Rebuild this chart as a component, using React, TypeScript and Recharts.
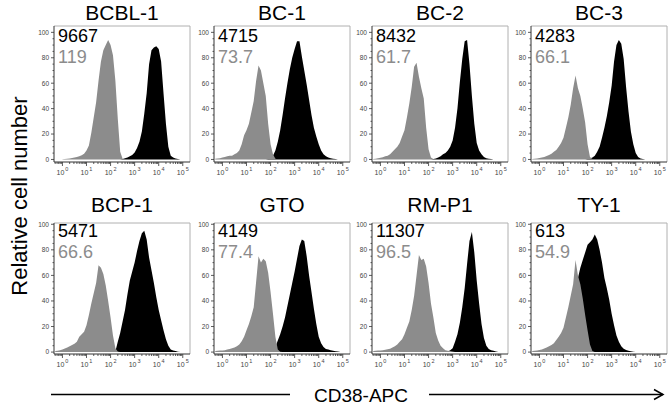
import { ComposedChart, Area, XAxis, YAxis, ReferenceLine } from "recharts"

// Flow histograms, 8 cell lines: isotype (gray) vs CD38-APC (black).
// x values are log10 of fluorescence, y is % of max.

type Pt = [number, number]

const PANEL_NAMES = ["BCBL-1", "BC-1", "BC-2", "BC-3", "BCP-1", "GTO", "RM-P1", "TY-1"]
const CD38_MFI = ["9667", "4715", "8432", "4283", "5471", "4149", "11307", "613"]
const ISO_MFI = ["119", "73.7", "61.7", "66.1", "66.6", "77.4", "96.5", "54.9"]

const X_MAJOR = [0, 1, 2, 3, 4, 5]
const Y_MAJOR = [0, 20, 40, 60, 80, 100]

const ISO_BCBL1: Pt[] = [
  [0, 0.2], [0.1, 0.4], [0.2, 0.6], [0.3, 0.8], [0.4, 1.1], [0.5, 1.5], [0.6, 2], [0.7, 2.6],
  [0.8, 3.3], [0.9, 4.5], [1.0, 7], [1.1, 11], [1.2, 21], [1.3, 33], [1.4, 45], [1.5, 62],
  [1.6, 77], [1.7, 86], [1.8, 90], [1.9, 94], [2.0, 90], [2.1, 82], [2.2, 62], [2.3, 32],
  [2.4, 6], [2.5, 0.5], [2.6, 0],
]
const CD38_BCBL1: Pt[] = [
  [2.5, 0.3], [2.6, 1], [2.7, 1.5], [2.8, 2.5], [2.9, 3.5], [3.0, 5.5], [3.1, 9], [3.2, 14],
  [3.3, 22], [3.4, 36], [3.5, 52], [3.6, 75], [3.7, 86], [3.8, 88], [3.9, 89], [4.0, 87],
  [4.1, 77], [4.2, 52], [4.3, 28], [4.4, 10], [4.5, 3], [4.6, 1.5], [4.7, 0.8], [4.8, 0.4], [4.9, 0],
]

const ISO_BC1: Pt[] = [
  [-0.3, 0.5], [-0.2, 0.8], [-0.1, 1], [0, 1.5], [0.1, 2], [0.2, 2.5], [0.3, 3], [0.4, 3],
  [0.5, 4], [0.6, 5], [0.7, 7], [0.8, 12], [0.9, 19], [1.0, 23], [1.1, 28], [1.2, 37],
  [1.3, 46], [1.4, 62], [1.5, 74], [1.6, 70], [1.7, 60], [1.8, 50], [1.9, 28], [2.0, 12],
  [2.1, 4], [2.2, 0.5], [2.3, 0],
]
const CD38_BC1: Pt[] = [
  [1.9, 0.3], [2.0, 1], [2.1, 3], [2.2, 7], [2.3, 14], [2.4, 23], [2.5, 35], [2.6, 48],
  [2.7, 60], [2.8, 71], [2.9, 80], [3.0, 87], [3.1, 93], [3.2, 93], [3.3, 81], [3.4, 70],
  [3.5, 59], [3.6, 47], [3.7, 35], [3.8, 25], [3.9, 18], [4.0, 12], [4.1, 7], [4.2, 4],
  [4.3, 2.5], [4.4, 1.5], [4.5, 1], [4.6, 0.5], [4.7, 0.3], [4.8, 0],
]

const ISO_BC2: Pt[] = [
  [-0.3, 0.3], [-0.2, 0.5], [-0.1, 1], [0, 1.3], [0.1, 1.8], [0.2, 2.5], [0.3, 3], [0.4, 4],
  [0.5, 6], [0.6, 8], [0.7, 10], [0.8, 13], [0.9, 18], [1.0, 23], [1.1, 33], [1.2, 44],
  [1.3, 57], [1.4, 73], [1.5, 76], [1.6, 65], [1.7, 56], [1.8, 48], [1.9, 25], [2.0, 8],
  [2.1, 1.5], [2.2, 0.3], [2.3, 0],
]
const CD38_BC2: Pt[] = [
  [2.1, 0], [2.2, 0.3], [2.3, 0.8], [2.4, 1.5], [2.5, 2.5], [2.6, 4], [2.7, 5], [2.8, 7],
  [2.9, 10], [3.0, 15], [3.1, 25], [3.2, 40], [3.3, 61], [3.4, 79], [3.5, 93], [3.6, 94],
  [3.7, 75], [3.8, 50], [3.9, 28], [4.0, 13], [4.1, 7], [4.2, 4], [4.3, 2], [4.4, 1],
  [4.5, 0.5], [4.6, 0.3], [4.7, 0],
]

const ISO_BC3: Pt[] = [
  [-0.3, 0.3], [-0.2, 0.5], [-0.1, 0.8], [0, 1.2], [0.1, 1.6], [0.2, 2], [0.3, 2.7], [0.4, 3.5],
  [0.5, 4.5], [0.6, 6], [0.7, 7.5], [0.8, 10], [0.9, 13], [1.0, 17], [1.1, 25], [1.2, 33],
  [1.3, 43], [1.4, 56], [1.5, 66], [1.6, 56], [1.7, 50], [1.8, 40], [1.9, 29], [2.0, 12],
  [2.1, 2], [2.2, 0.3], [2.3, 0],
]
const CD38_BC3: Pt[] = [
  [1.9, 0], [2.0, 0.3], [2.1, 0.8], [2.2, 1.5], [2.3, 3], [2.4, 6], [2.5, 10], [2.6, 17],
  [2.7, 25], [2.8, 34], [2.9, 45], [3.0, 58], [3.1, 77], [3.2, 90], [3.3, 94], [3.4, 91],
  [3.5, 79], [3.6, 57], [3.7, 38], [3.8, 22], [3.9, 12], [4.0, 5], [4.1, 2], [4.2, 0.8],
  [4.3, 0.3], [4.4, 0],
]

const ISO_BCP1: Pt[] = [
  [-0.3, 0.8], [-0.2, 1], [-0.1, 1.5], [0, 2], [0.1, 2.8], [0.2, 3.5], [0.3, 4.5], [0.4, 5.5],
  [0.5, 6.5], [0.6, 8], [0.7, 12], [0.8, 14], [0.9, 16], [1.0, 21], [1.1, 29], [1.2, 38],
  [1.3, 46], [1.4, 54], [1.5, 68], [1.6, 66], [1.7, 61], [1.8, 52], [1.9, 40], [2.0, 27],
  [2.1, 13], [2.2, 3], [2.3, 0.5], [2.4, 0],
]
const CD38_BCP1: Pt[] = [
  [2.1, 0], [2.2, 0.5], [2.3, 8], [2.4, 15], [2.5, 24], [2.6, 33], [2.7, 45], [2.8, 56],
  [2.9, 63], [3.0, 70], [3.1, 79], [3.2, 87], [3.3, 93], [3.4, 95], [3.5, 88], [3.6, 74],
  [3.7, 64], [3.8, 54], [3.9, 43], [4.0, 33], [4.1, 25], [4.2, 17], [4.3, 10], [4.4, 5],
  [4.5, 2], [4.6, 1.2], [4.7, 0.8], [4.8, 0.3], [4.9, 0],
]

const ISO_GTO: Pt[] = [
  [-0.3, 0.8], [-0.2, 1], [-0.1, 1.2], [0, 1.3], [0.1, 1.5], [0.2, 2], [0.3, 2.5], [0.4, 3],
  [0.5, 3.5], [0.6, 4.5], [0.7, 6], [0.8, 8.5], [0.9, 12], [1.0, 17], [1.1, 22], [1.2, 28],
  [1.3, 35], [1.4, 55], [1.5, 75], [1.6, 70], [1.7, 73], [1.8, 71], [1.9, 62], [2.0, 47],
  [2.1, 30], [2.2, 12], [2.3, 2], [2.4, 0.3], [2.5, 0],
]
const CD38_GTO: Pt[] = [
  [1.9, 0], [2.0, 0.5], [2.1, 1.5], [2.2, 4], [2.3, 9], [2.4, 14], [2.5, 20], [2.6, 27],
  [2.7, 36], [2.8, 45], [2.9, 54], [3.0, 63], [3.1, 73], [3.2, 83], [3.3, 88], [3.4, 87],
  [3.5, 75], [3.6, 60], [3.7, 47], [3.8, 34], [3.9, 22], [4.0, 12], [4.1, 7], [4.2, 4],
  [4.3, 2.5], [4.4, 2], [4.5, 1.5], [4.6, 1], [4.7, 0.7], [4.8, 0.4], [4.9, 0],
]

const ISO_RMP1: Pt[] = [
  [-0.3, 0.8], [-0.2, 1], [-0.1, 1.2], [0, 1.3], [0.1, 1.5], [0.2, 1.8], [0.3, 2.2], [0.4, 2.6],
  [0.5, 3.5], [0.6, 4.5], [0.7, 6], [0.8, 8], [0.9, 10], [1.0, 14], [1.1, 19], [1.2, 24],
  [1.3, 33], [1.4, 44], [1.5, 60], [1.6, 76], [1.7, 72], [1.8, 73], [1.9, 67], [2.0, 54],
  [2.1, 38], [2.2, 27], [2.3, 15], [2.4, 9], [2.5, 5], [2.6, 3], [2.7, 1.5], [2.8, 1],
  [2.9, 0.8], [3.0, 0.5], [3.1, 0],
]
const CD38_RMP1: Pt[] = [
  [2.7, 0], [2.8, 0.5], [2.9, 1.5], [3.0, 3], [3.1, 8], [3.2, 14], [3.3, 23], [3.4, 35],
  [3.5, 50], [3.6, 69], [3.7, 87], [3.8, 94], [3.9, 78], [4.0, 56], [4.1, 38], [4.2, 22],
  [4.3, 11], [4.4, 5], [4.5, 2.5], [4.6, 1.5], [4.7, 1], [4.8, 0.5], [4.9, 0],
]

const ISO_TY1: Pt[] = [
  [-0.3, 0.8], [-0.2, 1], [-0.1, 1.3], [0, 1.6], [0.1, 2], [0.2, 2.8], [0.3, 3.5], [0.4, 4.5],
  [0.5, 5.5], [0.6, 7], [0.7, 9.5], [0.8, 12], [0.9, 15], [1.0, 19], [1.1, 27], [1.2, 35],
  [1.3, 44], [1.4, 53], [1.5, 72], [1.6, 60], [1.7, 53], [1.8, 42], [1.9, 29], [2.0, 17],
  [2.1, 6], [2.2, 0.8], [2.3, 0],
]
const CD38_TY1: Pt[] = [
  [0.9, 0], [1.0, 0.5], [1.1, 2], [1.2, 6], [1.3, 14], [1.4, 28], [1.5, 45], [1.6, 58],
  [1.7, 66], [1.8, 72], [1.9, 78], [2.0, 84], [2.1, 86], [2.2, 88], [2.3, 92], [2.4, 88],
  [2.5, 80], [2.6, 70], [2.7, 58], [2.8, 50], [2.9, 41], [3.0, 30], [3.1, 21], [3.2, 13],
  [3.3, 8], [3.4, 4.5], [3.5, 2.6], [3.6, 1.6], [3.7, 1], [3.8, 0.7], [3.9, 0.3], [4.0, 0],
]

const ISO_SERIES = [ISO_BCBL1, ISO_BC1, ISO_BC2, ISO_BC3, ISO_BCP1, ISO_GTO, ISO_RMP1, ISO_TY1]
const CD38_SERIES = [CD38_BCBL1, CD38_BC1, CD38_BC2, CD38_BC3, CD38_BCP1, CD38_GTO, CD38_RMP1, CD38_TY1]

// layout
const FONT = "'Liberation Sans', Arial, Helvetica, sans-serif"
const PLOT_W = 136
const COL_LEFT = [54, 214, 372, 531]
const ROWS = [
  { top: 26, h: 136, domain: [-2, 105] as [number, number], titleY: 19.5, cdY: 41.5, isoY: 63 },
  { top: 223, h: 131, domain: [-1.5, 101] as [number, number], titleY: 211.5, cdY: 237, isoY: 257.5 },
]
const X_DOMAIN: [number, number] = [-0.35, 5.3]
const YAXIS_W = 28
const XAXIS_H = 22
const TOP_PAD = 6
const ISO_GRAY = "#8c8c8c"

const X_TICKS = [-1, 0, 1, 2, 3, 4, 5]
  .flatMap((k) => [1, 2, 3, 4, 5, 6, 7, 8, 9].map((m) => k + Math.log10(m)))
  .filter((v) => v >= X_DOMAIN[0] && v <= X_DOMAIN[1])
const Y_TICKS = Array.from({ length: 21 }, (_, i) => i * 5)

function mergeSeries(iso: Pt[], cd38: Pt[]) {
  const rows = new Map<string, { x: number; iso: number; cd38: number }>()
  const get = (x: number) => {
    const k = x.toFixed(1)
    if (!rows.has(k)) rows.set(k, { x, iso: 0, cd38: 0 })
    return rows.get(k)!
  }
  iso.forEach(([x, y]) => (get(x).iso = y))
  cd38.forEach(([x, y]) => (get(x).cd38 = y))
  return [...rows.values()].sort((a, b) => a.x - b.x)
}

function XTick(props: any) {
  const { x, y, payload } = props
  const v = payload.value
  const major = X_MAJOR.some((m) => Math.abs(m - v) < 1e-9)
  return (
    <g>
      <line x1={x} x2={x} y1={y} y2={y + (major ? 4 : 2)} stroke="#333" strokeWidth={0.8} />
      {major && (
        <text x={x} y={y + 13} textAnchor="middle" fontSize={7} fill="#444" fontFamily={FONT}>
          10
          <tspan dx={1} dy={-4} fontSize={5.5}>
            {Math.round(v)}
          </tspan>
        </text>
      )}
    </g>
  )
}

function YTick(props: any) {
  const { x, y, payload } = props
  const v = payload.value
  const major = Y_MAJOR.includes(v)
  return (
    <g>
      <line x1={x - (major ? 3 : 1.5)} x2={x} y1={y} y2={y} stroke="#333" strokeWidth={0.8} />
      {major && (
        <text x={x - 5} y={y + 2.4} textAnchor="end" fontSize={6.5} fill="#444" fontFamily={FONT}>
          {v}
        </text>
      )}
    </g>
  )
}

function Panel({ idx }: { idx: number }) {
  const row = ROWS[idx < 4 ? 0 : 1]
  const left = COL_LEFT[idx % 4]
  const data = mergeSeries(ISO_SERIES[idx], CD38_SERIES[idx])
  return (
    <div style={{ position: "absolute", left: left - YAXIS_W, top: row.top - TOP_PAD }}>
      <ComposedChart
        width={YAXIS_W + PLOT_W + 2}
        height={TOP_PAD + row.h + XAXIS_H}
        data={data}
        margin={{ top: TOP_PAD, right: 2, bottom: 0, left: 0 }}
      >
        <XAxis
          dataKey="x"
          type="number"
          domain={X_DOMAIN}
          ticks={X_TICKS}
          interval={0}
          allowDataOverflow
          height={XAXIS_H}
          tickSize={0}
          tickMargin={0}
          tickLine={false}
          axisLine={{ stroke: "#333" }}
          tick={(p: any) => <XTick {...p} />}
        />
        <YAxis
          type="number"
          domain={row.domain}
          ticks={Y_TICKS}
          interval={0}
          allowDataOverflow
          width={YAXIS_W}
          tickSize={0}
          tickMargin={0}
          tickLine={false}
          axisLine={{ stroke: "#333" }}
          tick={(p: any) => <YTick {...p} />}
        />
        <ReferenceLine y={row.domain[1]} stroke="#b0b0b0" />
        <ReferenceLine x={X_DOMAIN[1]} stroke="#b0b0b0" />
        <Area
          dataKey="cd38"
          type="linear"
          fill="#000"
          fillOpacity={1}
          stroke="none"
          baseValue={0}
          isAnimationActive={false}
        />
        <Area
          dataKey="iso"
          type="linear"
          fill={ISO_GRAY}
          fillOpacity={1}
          stroke="none"
          baseValue={0}
          isAnimationActive={false}
        />
      </ComposedChart>
    </div>
  )
}

export default function App() {
  return (
    <div
      style={{
        position: "absolute",
        left: 0,
        top: 0,
        width: 670,
        height: 413,
        background: "#fff",
        fontFamily: FONT,
        overflow: "hidden",
      }}
    >
      {PANEL_NAMES.map((_, i) => (
        <Panel key={i} idx={i} />
      ))}

      <svg
        width={670}
        height={413}
        style={{ position: "absolute", left: 0, top: 0, pointerEvents: "none" }}
        fontFamily={FONT}
      >
        {PANEL_NAMES.map((name, i) => {
          const row = ROWS[i < 4 ? 0 : 1]
          const left = COL_LEFT[i % 4]
          return (
            <g key={name}>
              <text x={left + PLOT_W / 2} y={row.titleY} textAnchor="middle" fontSize={21} fill="#000">
                {name}
              </text>
              <text x={left + 4} y={row.cdY} fontSize={18} fill="#000">
                {CD38_MFI[i]}
              </text>
              <text x={left + 4} y={row.isoY} fontSize={18} fill={ISO_GRAY}>
                {ISO_MFI[i]}
              </text>
            </g>
          )
        })}

        <text
          x={27}
          y={196}
          textAnchor="middle"
          fontSize={22}
          fill="#000"
          transform="rotate(-90 27 196)"
        >
          Relative cell number
        </text>

        <text x={361} y={401.5} textAnchor="middle" fontSize={19} fill="#000">
          CD38-APC
        </text>
        <line x1={51} x2={290} y1={394.5} y2={394.5} stroke="#000" strokeWidth={1.5} />
        <line x1={429} x2={663} y1={394.5} y2={394.5} stroke="#000" strokeWidth={1.5} />
        <polyline points="654,389.5 663,394.5 654,399.5" fill="none" stroke="#000" strokeWidth={1.5} />
      </svg>
    </div>
  )
}
